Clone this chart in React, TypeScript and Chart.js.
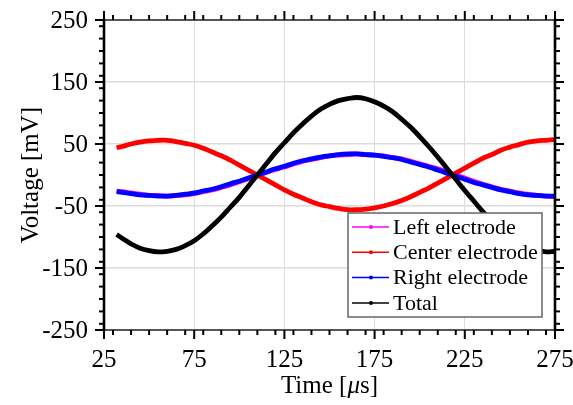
import React, { useEffect, useRef } from "react";
import { Chart, registerables } from "chart.js";

Chart.register(...registerables);

const timeUs = [32, 35, 40, 45, 50, 55, 60, 65, 70, 75, 80, 85, 90, 95, 100, 105, 110, 115, 120, 125, 130, 135, 140, 145, 150, 155, 160, 165, 170, 175, 180, 185, 190, 195, 200, 205, 210, 215, 220, 225, 230, 235, 240, 245, 250, 255, 260, 265, 270, 275];

const leftElectrode = [-26, -27, -29, -31, -33, -33, -34, -33, -32, -30, -27, -24, -20, -16, -11, -6, -1, 4, 9, 13, 18, 22, 25, 28, 31, 32, 33, 34, 33, 32, 31, 28, 26, 22, 18, 14, 10, 5, 0, -5, -10, -15, -19, -23, -26, -29, -31, -33, -34, -35];

const centerElectrode = [44, 46, 50, 53, 55, 56, 56, 54, 51, 48, 43, 37, 31, 24, 16, 8, 0, -8, -16, -24, -31, -37, -43, -48, -51, -54, -56, -56, -55, -53, -50, -46, -41, -35, -28, -21, -13, -5, 3, 11, 19, 27, 33, 40, 45, 49, 53, 55, 56, 57];

const rightElectrode = [-27, -28, -30, -32, -33, -34, -34, -33, -31, -29, -26, -23, -19, -14, -10, -5, 0, 5, 10, 14, 19, 23, 26, 29, 31, 33, 34, 34, 33, 32, 30, 28, 25, 21, 17, 13, 8, 3, -2, -7, -12, -16, -20, -24, -27, -30, -32, -33, -34, -34];

const total = [-96, -102, -111, -118, -122, -124, -123, -120, -114, -106, -95, -82, -68, -52, -36, -18, 0, 18, 36, 52, 68, 82, 95, 106, 114, 120, 123, 125, 123, 118, 111, 102, 90, 77, 62, 46, 29, 11, -7, -25, -42, -59, -74, -88, -99, -109, -117, -121, -124, -123];

const seriesLabels = ["Left electrode", "Center electrode", "Right electrode", "Total"];
const seriesColors = ["#ff00ff", "#ff0000", "#0000ff", "#000000"];

const xMin = 25;
const xMax = 275;
const xMajorStep = 50;
const xMinorStep = 10;
const yMin = -250;
const yMax = 250;
const yMajorStep = 100;
const yMinorStep = 20;

const xTitleParts = [
  { text: "Time [", italic: false },
  { text: "\u03bc", italic: true },
  { text: "s]", italic: false },
];
const yTitle = "Voltage [mV]";

const FONT = "'Liberation Serif', 'Times New Roman', serif";

const framePlugin = {
  id: "framePlugin",
  afterDatasetsDraw(chart: any) {
    const { ctx, chartArea: a, scales } = chart;
    const xs = scales.x;
    const ys = scales.y;
    const line = (x1: number, y1: number, x2: number, y2: number) => {
      ctx.beginPath();
      ctx.moveTo(x1, y1);
      ctx.lineTo(x2, y2);
      ctx.stroke();
    };
    ctx.save();
    ctx.strokeStyle = "#555555";
    ctx.lineWidth = 2;
    line(a.left, a.top, a.right, a.top);
    line(a.left, a.bottom, a.right, a.bottom);

    ctx.strokeStyle = "#000000";
    ctx.lineWidth = 2;
    const majLen = 9;
    const minLen = 5;
    for (let v = Math.ceil(xMin / xMinorStep) * xMinorStep; v <= xMax; v += xMinorStep) {
      const px = xs.getPixelForValue(v);
      line(px, a.bottom, px, a.bottom + minLen);
      line(px, a.top, px, a.top - minLen);
    }
    for (let v = Math.ceil(yMin / yMinorStep) * yMinorStep; v <= yMax; v += yMinorStep) {
      const py = ys.getPixelForValue(v);
      line(a.left, py, a.left - minLen, py);
      line(a.right, py, a.right + minLen, py);
    }
    ctx.fillStyle = "#000000";
    ctx.font = `25px ${FONT}`;
    ctx.textBaseline = "middle";
    ctx.textAlign = "center";
    xs.ticks.forEach((t: any) => {
      const px = xs.getPixelForValue(t.value);
      line(px, a.bottom, px, a.bottom + majLen);
      line(px, a.top, px, a.top - majLen);
      ctx.fillText(String(t.value), px, a.bottom + 30);
    });
    ctx.textAlign = "right";
    ys.ticks.forEach((t: any) => {
      const py = ys.getPixelForValue(t.value);
      line(a.left, py, a.left - majLen, py);
      line(a.right, py, a.right + majLen, py);
      ctx.fillText(String(t.value), a.left - 16, py + 1);
    });
    ctx.lineWidth = 2.6;
    line(a.left, a.top - 1, a.left, a.bottom + 1);
    line(a.right, a.top - 1, a.right, a.bottom + 1);

    // legend
    const lx = a.right - 207;
    const ly = a.bottom - 117;
    const lw = 194;
    const lh = 104;
    ctx.fillStyle = "#ffffff";
    ctx.fillRect(lx, ly, lw, lh);
    ctx.strokeStyle = "#666666";
    ctx.lineWidth = 1.5;
    ctx.strokeRect(lx, ly, lw, lh);
    ctx.font = `22px ${FONT}`;
    ctx.textBaseline = "middle";
    ctx.textAlign = "left";
    chart.data.datasets.forEach((ds: any, i: number) => {
      const y = ly + 14 + i * 25.3;
      ctx.strokeStyle = ds.borderColor;
      ctx.lineWidth = 1.5;
      line(lx + 4, y, lx + 41, y);
      ctx.fillStyle = ds.borderColor;
      ctx.beginPath();
      ctx.arc(lx + 23, y, 2, 0, Math.PI * 2);
      ctx.fill();
      ctx.fillStyle = "#000000";
      ctx.fillText(ds.label, lx + 45, y + 1);
    });

    // x title
    ctx.fillStyle = "#000000";
    ctx.textBaseline = "middle";
    ctx.textAlign = "left";
    const fonts = xTitleParts.map((p) => (p.italic ? `italic 25px ${FONT}` : `25px ${FONT}`));
    let totalW = 0;
    const widths = xTitleParts.map((p, i) => {
      ctx.font = fonts[i];
      const w = ctx.measureText(p.text).width;
      totalW += w;
      return w;
    });
    let cx = (a.left + a.right) / 2 - totalW / 2;
    xTitleParts.forEach((p, i) => {
      ctx.font = fonts[i];
      ctx.fillText(p.text, cx, 386);
      cx += widths[i];
    });

    // y title
    ctx.save();
    ctx.translate(31, (a.top + a.bottom) / 2);
    ctx.rotate(-Math.PI / 2);
    ctx.font = `25px ${FONT}`;
    ctx.textAlign = "center";
    ctx.textBaseline = "middle";
    ctx.fillText(yTitle, 0, 0);
    ctx.restore();

    ctx.restore();
  },
};

export default function App() {
  const canvasRef = useRef<HTMLCanvasElement | null>(null);

  useEffect(() => {
    document.body.style.margin = "0";
    const canvas = canvasRef.current;
    if (!canvas) return;
    const seriesValues = [leftElectrode, centerElectrode, rightElectrode, total];
    const chart = new Chart(canvas, {
      type: "line",
      data: {
        datasets: seriesValues.map((vals, i) => ({
          label: seriesLabels[i],
          data: timeUs.map((t, j) => ({ x: t, y: vals[j] })),
          borderColor: seriesColors[i],
          backgroundColor: seriesColors[i],
          borderWidth: 4.8,
          pointRadius: 0,
          tension: 0.4,
          fill: false,
          order: 4 - i,
        })),
      },
      options: {
        animation: false,
        responsive: false,
        maintainAspectRatio: false,
        layout: { padding: { top: 20, right: 18, left: 0, bottom: 0 } },
        plugins: {
          legend: { display: false },
          tooltip: { enabled: false },
          title: { display: false },
        },
        scales: {
          x: {
            type: "linear",
            position: "bottom",
            min: xMin,
            max: xMax,
            ticks: { stepSize: xMajorStep, display: false },
            grid: { color: "#dddddd", lineWidth: 1, drawTicks: false },
            border: { display: false },
            afterFit: (scale: any) => {
              scale.height = 75;
            },
          },
          y: {
            type: "linear",
            min: yMin,
            max: yMax,
            ticks: { stepSize: yMajorStep, display: false },
            grid: { color: "#dddddd", lineWidth: 1.6, drawTicks: false },
            border: { display: false },
            afterFit: (scale: any) => {
              scale.width = 104;
            },
          },
        },
      },
      plugins: [framePlugin],
    });
    return () => chart.destroy();
  }, []);

  return (
    <canvas
      ref={canvasRef}
      width={573}
      height={405}
      style={{ display: "block", width: 573, height: 405 }}
    />
  );
}
